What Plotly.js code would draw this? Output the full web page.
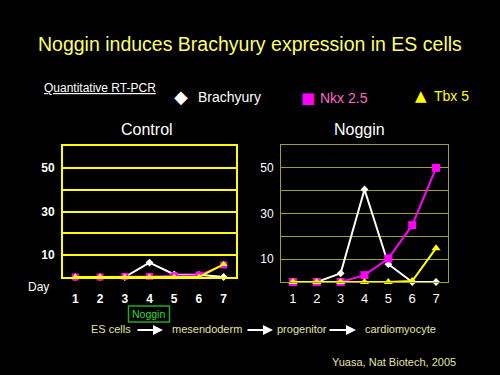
<!DOCTYPE html>
<html>
<head>
<meta charset="utf-8">
<script src="https://cdn.plot.ly/plotly-3.0.1.min.js"></script>
<style>
html,body{margin:0;padding:0;background:#000;}
#chart{width:500px;height:375px;}
</style>
</head>
<body>
<div id="chart"></div>
<script>
// Data
var days = [1, 2, 3, 4, 5, 6, 7];
var dayLabels = ['1', '2', '3', '4', '5', '6', '7'];
var controlBrachyury = [0, 0, 0, 6.6, 1.2, 1, 0];
var controlNkx = [0, 0, 0.3, 0.3, 0.6, 0.9, 5.5];
var controlTbx = [0, 0, 0, 0, 0, 0, 5.8];
var nogginBrachyury = [0, 0, 3.8, 40.5, 7.8, 0, 0];
var nogginNkx = [0, 0, 0, 3, 10.3, 24.9, 50];
var nogginTbx = [0, 0, 0, 0, 0, 0.4, 14.8];
var yTickVals = [0, 10, 20, 30, 40, 50, 60];
var yTickText = ['', '10', '', '30', '', '50', ''];

var FONT = 'Liberation Sans, Arial, sans-serif';
var WHITE = '#ffffff', MAG = '#ff00ff', YEL = '#ffff00';

function series(x, y, color, symbol, size, lw, xa, ya, lineColor) {
  return {
    x: x, y: y, type: 'scatter', mode: 'lines+markers',
    xaxis: xa, yaxis: ya, showlegend: false, cliponaxis: false,
    line: {color: lineColor || color, width: lw},
    marker: {color: color, symbol: symbol, size: size, line: {width: 0}}
  };
}

var traces = [
  series(days, controlBrachyury, WHITE, 'diamond', 6, 2, 'x', 'y'),
  series(days, controlNkx, MAG, 'square', 7, 1.5, 'x', 'y'),
  series(days, controlTbx, YEL, 'triangle-up', 7, 2, 'x', 'y'),
  series(days, nogginBrachyury, WHITE, 'diamond', 6, 2, 'x2', 'y2'),
  series(days, nogginNkx, MAG, 'square', 8, 2, 'x2', 'y2'),
  series(days, nogginTbx, YEL, 'triangle-up', 8, 2, 'x2', 'y2')
];

function xAxis(domain, color, lw, fontSize, weight, standoff, anchor) {
  return {
    domain: domain, anchor: anchor, range: [0.5, 7.5],
    tickvals: days, ticktext: dayLabels, ticks: '',
    tickfont: {family: FONT, size: fontSize, color: WHITE, weight: weight},
    ticklabelstandoff: standoff,
    showgrid: false, zeroline: false,
    showline: true, linecolor: color, linewidth: lw, mirror: true,
    fixedrange: true
  };
}
function yAxis(domain, color, lw, fontSize, weight, anchor) {
  return {
    domain: domain, anchor: anchor, range: [0, 60],
    tickvals: yTickVals, ticktext: yTickText, ticks: '',
    tickfont: {family: FONT, size: fontSize, color: WHITE, weight: weight},
    ticklabelstandoff: 4,
    showgrid: true, gridcolor: color, gridwidth: lw, zeroline: false,
    showline: true, linecolor: color, linewidth: lw, mirror: true,
    fixedrange: true
  };
}

function txt(x, y, text, size, color, opts) {
  var a = {
    xref: 'paper', yref: 'paper', x: x / 500, y: 1 - y / 375,
    text: text, showarrow: false, xanchor: 'left', yanchor: 'middle',
    font: {family: FONT, size: size, color: color}
  };
  if (opts) for (var k in opts) a[k] = opts[k];
  return a;
}
function arrow(x0, x1, y) {
  return {
    xref: 'paper', yref: 'paper', x: x1 / 500, y: 1 - y / 375,
    axref: 'pixel', ayref: 'pixel', ax: -(x1 - x0), ay: 0,
    text: '', showarrow: true, arrowhead: 2, arrowsize: 1,
    arrowwidth: 2, arrowcolor: WHITE, standoff: 0
  };
}

var PALE = '#e4e4a4';
var annotations = [
  txt(250, 44, 'Noggin induces Brachyury expression in ES cells', 19.5, '#ffff66', {xanchor: 'center'}),
  txt(42, 88, '<u>Quantitative RT-PCR</u>', 12, WHITE),
  txt(181, 97, '\u25C6', 18, WHITE, {xanchor: 'center', font: {family: 'DejaVu Sans', size: 18, color: WHITE}}),
  txt(196, 97, 'Brachyury', 14, WHITE),
  txt(308, 97.5, '\u25A0', 15, MAG, {xanchor: 'center', font: {family: 'DejaVu Sans', size: 15, color: MAG}}),
  txt(318, 98, 'Nkx 2.5', 14, '#ff66cc'),
  txt(421, 96, '\u25B2', 15, YEL, {xanchor: 'center', font: {family: 'DejaVu Sans', size: 15, color: YEL}}),
  txt(432, 96, 'Tbx 5', 14, YEL),
  txt(147, 129, 'Control', 16, WHITE, {xanchor: 'center'}),
  txt(359, 129, 'Noggin', 16, WHITE, {xanchor: 'center'}),
  txt(26, 287, 'Day', 12, WHITE),
  txt(148.8, 314, 'Noggin', 10.5, '#33dd33', {xanchor: 'center'}),
  txt(89, 329, 'ES cells', 11, PALE),
  txt(170, 329, 'mesendoderm', 11, PALE),
  txt(275, 329, 'progenitor', 11, PALE),
  txt(362.5, 329, 'cardiomyocyte', 11, PALE),
  arrow(136, 163, 330),
  arrow(246, 273, 330),
  arrow(328, 356, 330),
  txt(330, 362, 'Yuasa, Nat Biotech, 2005', 11, PALE)
];

var shapes = [
  {type: 'rect', xref: 'paper', yref: 'paper',
   x0: 128.5 / 500, x1: 169.5 / 500, y0: 1 - 322 / 375, y1: 1 - 306 / 375,
   line: {color: '#22aa22', width: 1.5}, fillcolor: 'rgba(0,0,0,0)'}
];

var layout = {
  width: 500, height: 375,
  margin: {l: 0, r: 0, t: 0, b: 0},
  paper_bgcolor: '#000', plot_bgcolor: '#000',
  showlegend: false,
  xaxis: xAxis([63 / 500, 236 / 500], '#ffff00', 2, 12, 700, 10, 'y'),
  yaxis: yAxis([1 - 277 / 375, 1 - 146 / 375], '#ffff00', 2, 12, 700, 'x'),
  xaxis2: xAxis([281 / 500, 448 / 500], '#a0a024', 1, 13, 400, 4, 'y2'),
  yaxis2: yAxis([1 - 282 / 375, 1 - 145 / 375], '#a0a024', 1, 12, 400, 'x2'),
  annotations: annotations,
  shapes: shapes
};

Plotly.newPlot('chart', traces, layout, {displayModeBar: false, staticPlot: true});
</script>
</body>
</html>
